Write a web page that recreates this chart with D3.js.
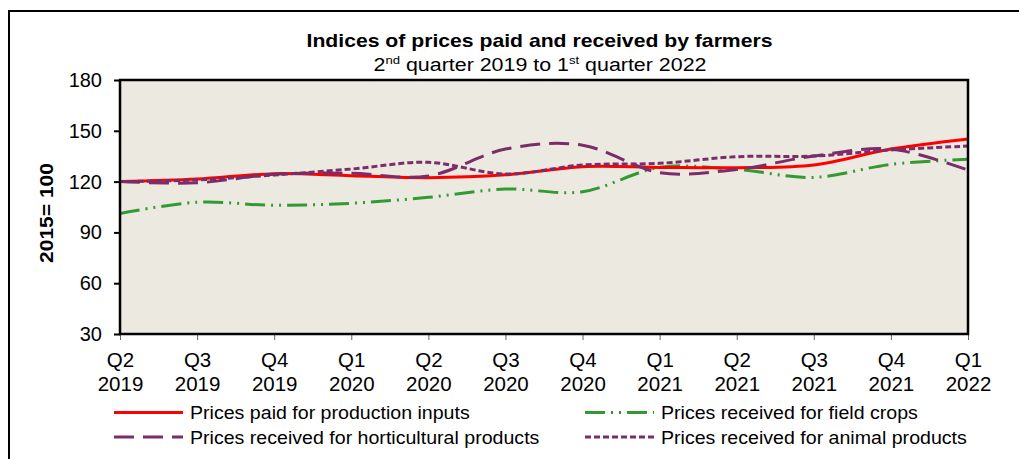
<!DOCTYPE html>
<html>
<head>
<meta charset="utf-8">
<script src="https://cdn.jsdelivr.net/npm/d3@7"></script>
<style>
  body { margin: 0; background: #fff; }
  text { font-family: "Liberation Sans", Arial, sans-serif; }
</style>
</head>
<body>
<svg id="chart" width="1019" height="459"></svg>
<script>
      // data
      var quarters = ["Q2", "Q3", "Q4", "Q1", "Q2", "Q3", "Q4", "Q1", "Q2", "Q3", "Q4", "Q1"];
      var years    = ["2019", "2019", "2019", "2020", "2020", "2020", "2020", "2021", "2021", "2021", "2021", "2022"];
      var paidInputs   = [120, 121.5, 124.7, 123.5, 122.3, 124, 128.8, 128.4, 128.2, 129.8, 139.2, 145.2];
      var fieldCrops   = [101.2, 107.8, 106, 107.2, 110.7, 115.6, 114, 128.4, 127.2, 122.5, 130.2, 133.2];
      var horticulture = [120, 119.3, 124.3, 124.9, 123.3, 139.2, 141.5, 125.3, 127.2, 135.1, 139.2, 126.8];
      var animalProd   = [120, 121, 123.9, 127.4, 131.4, 124.5, 129.8, 130.8, 134.7, 135.1, 138.7, 141];
      var yTicks = [30, 60, 90, 120, 150, 180];

      var seriesNames = ["Prices paid for production inputs", "Prices received for field crops",
                         "Prices received for horticultural products", "Prices received for animal products"];

      var svg = d3.select("#chart");
      var plotLeft = 120, plotTop = 80, plotRight = 968, plotBottom = 334;

      // outer frame
      svg.append("rect").attr("x", 9).attr("y", 11).attr("width", 1030).attr("height", 470)
         .attr("fill", "none").attr("stroke", "#000").attr("stroke-width", 2);

      // title (text in the original is a little wider than Arial)
      svg.append("text").attr("x", 539.5).attr("y", 46.5).attr("text-anchor", "middle")
         .style("font-weight", "bold").style("font-size", "18.5px")
         .attr("textLength", 466).attr("lengthAdjust", "spacingAndGlyphs")
         .text("Indices of prices paid and received by farmers");
      var sub = svg.append("g").attr("transform", "translate(540,70.5) scale(1.19,1)")
         .append("text").attr("text-anchor", "middle").style("font-size", "18px");
      sub.append("tspan").text("2");
      sub.append("tspan").attr("dy", -7).style("font-size", "11px").text("nd");
      sub.append("tspan").attr("dy", 7).text(" quarter 2019 to 1");
      sub.append("tspan").attr("dy", -7).style("font-size", "11px").text("st");
      sub.append("tspan").attr("dy", 7).text(" quarter 2022");

      var x = d3.scalePoint().domain(d3.range(quarters.length)).range([plotLeft, plotRight]);
      var y = d3.scaleLinear().domain([30, 180]).range([plotBottom, plotTop]);

      // plot area
      svg.append("rect").attr("x", plotLeft).attr("y", plotTop)
         .attr("width", plotRight - plotLeft).attr("height", plotBottom - plotTop)
         .attr("fill", "#ECE9E0");

      // y axis
      var yAxis = svg.append("g").attr("transform", "translate(" + plotLeft + ",0)")
         .call(d3.axisLeft(y).tickValues(yTicks).tickSize(6).tickPadding(12));
      yAxis.select(".domain").remove();
      yAxis.selectAll("line").attr("stroke", "#000").attr("stroke-width", 2);
      yAxis.selectAll("text").style("font-size", "20px").attr("fill", "#000")
           .style("font-family", "'Liberation Sans', Arial, sans-serif");

      // x axis
      var xAxis = svg.append("g").attr("transform", "translate(0," + plotBottom + ")")
         .call(d3.axisBottom(x).tickSize(6).tickFormat(""));
      xAxis.select(".domain").remove();
      xAxis.selectAll("line").attr("stroke", "#666").attr("stroke-width", 1);
      xAxis.selectAll(".tick").each(function(d) {
        var t = d3.select(this).append("text").attr("fill", "#000").attr("text-anchor", "middle")
                  .style("font-size", "20.5px").style("font-family", "'Liberation Sans', Arial, sans-serif");
        t.append("tspan").attr("x", 0).attr("y", 32.5).text(quarters[d]);
        t.append("tspan").attr("x", 0).attr("y", 56.5).text(years[d]);
      });

      // y label
      svg.append("text").attr("transform", "translate(53,213) rotate(-90)").attr("text-anchor", "middle")
         .style("font-weight", "bold").style("font-size", "18px")
         .attr("textLength", 100).attr("lengthAdjust", "spacingAndGlyphs").text("2015= 100");

      var line = d3.line().x(function(d, i) { return x(i); }).y(function(d) { return y(d); })
                   .curve(d3.curveCardinal.tension(0));

      var styles = [
        { data: paidInputs,   color: "#FF0000", dash: null },
        { data: fieldCrops,   color: "#339933", dash: "20,6,2,6,2,6" },
        { data: horticulture, color: "#7B2C6A", dash: "20,9" },
        { data: animalProd,   color: "#7B2C6A", dash: "6,3" }
      ];
      var drawOrder = [1, 0, 2, 3];
      drawOrder.forEach(function(k) {
        var s = styles[k];
        svg.append("path").datum(s.data).attr("d", line).attr("fill", "none")
           .attr("stroke", s.color).attr("stroke-width", 3)
           .attr("stroke-dasharray", s.dash);
      });

      // plot border
      svg.append("rect").attr("x", plotLeft).attr("y", plotTop)
         .attr("width", plotRight - plotLeft).attr("height", plotBottom - plotTop)
         .attr("fill", "none").attr("stroke", "#000").attr("stroke-width", 2.5);

      // legend
      var legendPos = [[114, 412.5], [585, 412.5], [114, 437], [585, 437]];
      var legendOrder = [0, 1, 2, 3];
      legendOrder.forEach(function(k, i) {
        var p = legendPos[i], s = styles[k];
        svg.append("line").attr("x1", p[0]).attr("x2", p[0] + 69).attr("y1", p[1]).attr("y2", p[1])
           .attr("stroke", s.color).attr("stroke-width", 3).attr("stroke-dasharray", s.dash);
        svg.append("g").attr("transform", "translate(" + (p[0] + 76) + "," + (p[1] + 6.5) + ") scale(1.12,1)")
           .append("text").style("font-size", "17.5px").text(seriesNames[k]);
      });
</script>
</body>
</html>
